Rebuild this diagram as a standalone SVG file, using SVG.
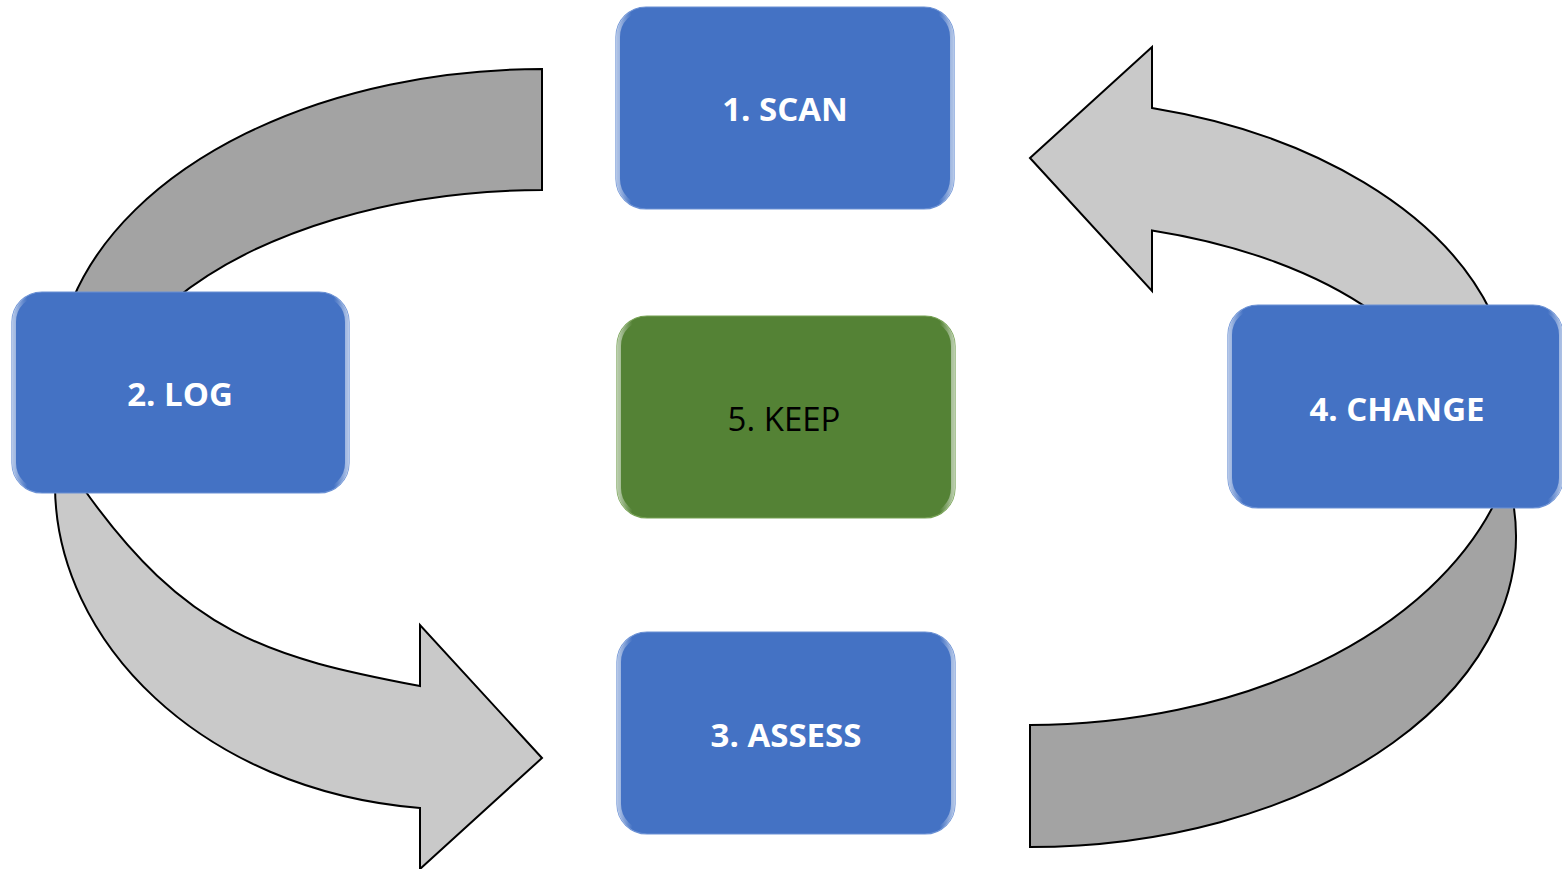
<svg xmlns="http://www.w3.org/2000/svg" width="1562" height="869" viewBox="0 0 1562 869">
  <defs>
    <!-- soft bevel highlight along the left and right edges of each box -->
    <linearGradient id="bevel" x1="0" y1="0" x2="1" y2="0">
      <stop offset="0" stop-color="#ffffff" stop-opacity="0.55"/>
      <stop offset="0.04" stop-color="#ffffff" stop-opacity="0"/>
      <stop offset="0.96" stop-color="#ffffff" stop-opacity="0"/>
      <stop offset="1" stop-color="#ffffff" stop-opacity="0.55"/>
    </linearGradient>
    <style>
      .arrow-dark { fill: #a3a3a3; stroke: #000000; stroke-width: 2; stroke-linejoin: miter; }
      .arrow-light { fill: #c9c9c9; stroke: #000000; stroke-width: 2; stroke-linejoin: miter; }
      .box-blue { fill: #4472c4; stroke: #6a90d4; stroke-width: 1.2; }
      .box-green { fill: #548235; stroke: #74a052; stroke-width: 1.2; }
      .shine { fill: none; stroke: url(#bevel); stroke-width: 4; }
      .label { font-family: "Open Sans", "Liberation Sans", sans-serif; font-size: 33px; text-anchor: middle; }
      .label-bold { font-weight: 700; fill: #ffffff; }
      .label-plain { font-weight: 400; fill: #000000; }
    </style>
  </defs>

  <!-- curved arrows running round the cycle -->
  <g id="connectors">
    <!-- 1 -> 2 : from SCAN down to LOG -->
    <path class="arrow-dark" d="M 542,69 A 486 311 0 0 0 72.4,300 L 174,300 A 451 260 0 0 1 542,190 Z"/>
    <!-- 2 -> 3 : from LOG round to ASSESS -->
    <path class="arrow-light" d="M 55,485 C 55,640 200,790 420,808 L 420,869 L 542,758 L 420,625 L 420,686 C 270,657.5 186,635 81,485 Z"/>
    <!-- 3 -> 4 : from ASSESS up to CHANGE -->
    <path class="arrow-dark" d="M 1030,725 A 490 325 0 0 0 1496.2,500 L 1512.7,500 A 486 311 0 0 1 1030,847 Z"/>
    <!-- 4 -> 1 : from CHANGE back to SCAN -->
    <path class="arrow-light" d="M 1030,158 L 1152,47 L 1152,108 A 482 302 0 0 1 1491,312 L 1373,312 A 430 229 0 0 0 1152,230.4 L 1152,291 Z"/>
  </g>

  <g id="node-scan">
    <rect class="box-blue" x="616" y="7" width="338" height="202" rx="30"/>
    <rect class="shine" x="618" y="9" width="334" height="198" rx="28"/>
    <text class="label label-bold" x="785" y="121">1. SCAN</text>
  </g>

  <g id="node-log">
    <rect class="box-blue" x="12" y="292" width="337" height="201" rx="30"/>
    <rect class="shine" x="14" y="294" width="333" height="197" rx="28"/>
    <text class="label label-bold" x="180" y="406">2. LOG</text>
  </g>

  <g id="node-assess">
    <rect class="box-blue" x="617" y="632" width="338" height="202" rx="30"/>
    <rect class="shine" x="619" y="634" width="334" height="198" rx="28"/>
    <text class="label label-bold" x="786" y="747">3. ASSESS</text>
  </g>

  <g id="node-change">
    <rect class="box-blue" x="1228" y="305" width="335" height="203" rx="30"/>
    <rect class="shine" x="1230" y="307" width="331" height="199" rx="28"/>
    <text class="label label-bold" x="1397" y="421">4. CHANGE</text>
  </g>

  <g id="node-keep">
    <rect class="box-green" x="617" y="316" width="338" height="202" rx="30"/>
    <rect class="shine" x="619" y="318" width="334" height="198" rx="28"/>
    <text class="label label-plain" x="784" y="431">5. KEEP</text>
  </g>
</svg>
